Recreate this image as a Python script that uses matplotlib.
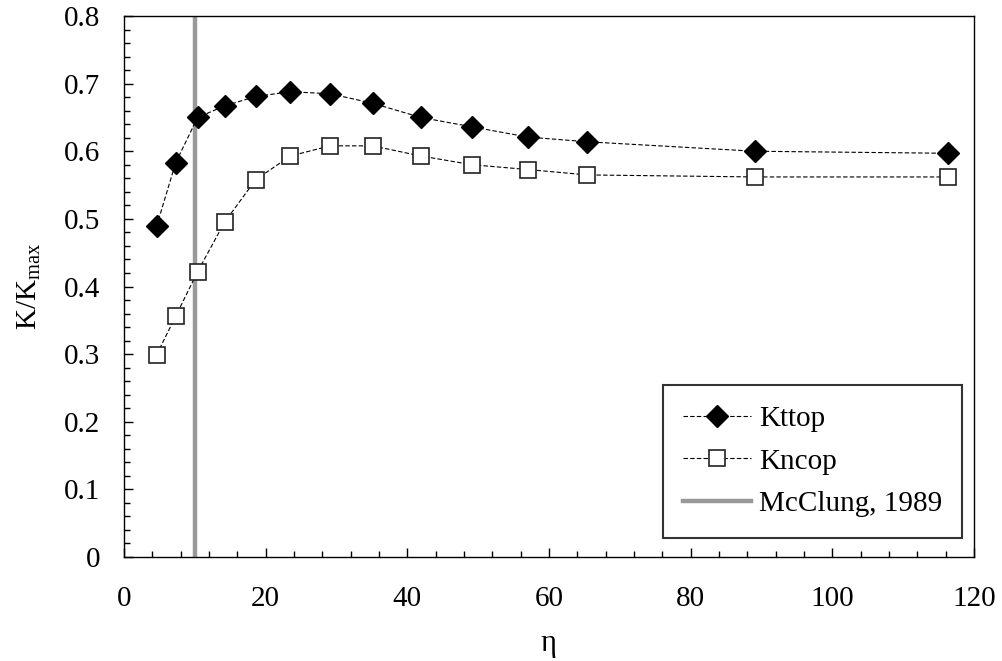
import matplotlib
matplotlib.use("Agg")
import matplotlib.pyplot as plt
from matplotlib.ticker import MultipleLocator, FuncFormatter

plt.rcParams["font.family"] = ["Liberation Serif", "DejaVu Serif"]
plt.rcParams["mathtext.fontset"] = "custom"
plt.rcParams["mathtext.rm"] = "Liberation Serif"
plt.rcParams["mathtext.it"] = "Liberation Serif"

# eta values shared by both series
eta = [4.6, 7.3, 10.4, 14.2, 18.6, 23.5, 29.1, 35.1, 41.9, 49.2, 57.0, 65.4, 89.1, 116.4]
kttop = [0.489, 0.583, 0.650, 0.667, 0.681, 0.688, 0.685, 0.671, 0.650, 0.636, 0.621, 0.614, 0.600, 0.597]
kncop = [0.299, 0.356, 0.422, 0.495, 0.558, 0.593, 0.608, 0.608, 0.593, 0.580, 0.573, 0.565, 0.562, 0.562]
mcclung_eta = 10.0

fig = plt.figure(figsize=(10.03, 6.61), dpi=100)
ax = fig.add_axes([0.1236, 0.1573, 0.8474, 0.8185])

ax.plot(eta, kttop, ls=(0, (4, 2)), lw=0.8, color="black",
        marker="D", ms=11.5, mfc="black", mec="black", label="Kttop")
ax.plot(eta, kncop, ls=(0, (4, 2)), lw=0.8, color="black",
        marker="s", ms=11.5, mfc="white", mec="#222222", mew=1.2, label="Kncop")
ax.axvline(mcclung_eta, color="#999999", lw=3.2, label="McClung, 1989", zorder=1)

ax.set_xlim(0, 120)
ax.set_ylim(0, 0.8)
ax.xaxis.set_major_locator(MultipleLocator(20))
ax.xaxis.set_minor_locator(MultipleLocator(4))
ax.yaxis.set_major_locator(MultipleLocator(0.1))
ax.yaxis.set_minor_locator(MultipleLocator(0.02))
ax.yaxis.set_major_formatter(FuncFormatter(lambda v, p: f"{v:g}"))

ax.tick_params(which="both", direction="in", top=False, right=False, width=1.0)
ax.tick_params(which="major", length=6.5)
ax.tick_params(which="minor", length=4.5)
ax.tick_params(axis="x", which="major", labelsize=21, pad=21)
ax.tick_params(axis="y", which="major", labelsize=21, pad=17)
for sp in ax.spines.values():
    sp.set_linewidth(1.0)

ax.set_xlabel("η", fontsize=22, labelpad=12)
ax.set_ylabel(r"$\mathrm{K/K_{max}}$", fontsize=21, labelpad=15)

leg = ax.legend(loc="lower right", bbox_to_anchor=(0.9865, 0.036), fontsize=21,
                frameon=True, fancybox=False, edgecolor="black",
                handlelength=2.35, labelspacing=0.55, borderpad=0.7,
                borderaxespad=0.0, handletextpad=0.25)
leg.get_frame().set_linewidth(1.5)

fig.savefig("out.png", dpi=100)
